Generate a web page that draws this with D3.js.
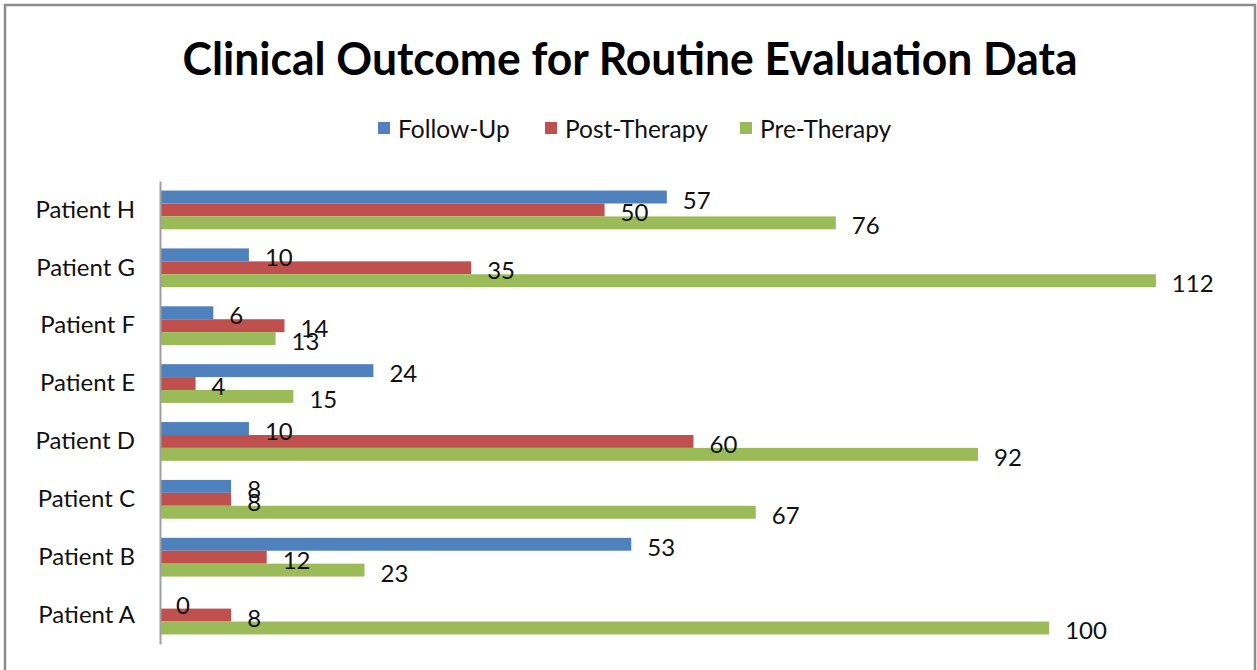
<!DOCTYPE html>
<html>
<head>
<meta charset="utf-8">
<script src="https://cdn.jsdelivr.net/npm/d3@7"></script>
<style>
  body { margin: 0; background: #fff; }
  svg text { font-family: Lato, "Open Sans", sans-serif; }
</style>
</head>
<body>
<svg id="drawing_region"></svg>
<script>
const patients = ["Patient A", "Patient B", "Patient C", "Patient D", "Patient E", "Patient F", "Patient G", "Patient H"];
const series_names = ["Follow-Up", "Post-Therapy", "Pre-Therapy"];
const follow_up = [0, 53, 8, 10, 24, 6, 10, 57];
const post_therapy = [8, 12, 8, 60, 4, 14, 35, 50];
const pre_therapy = [100, 23, 67, 92, 15, 13, 112, 76];
const colors = ["#4f81bd", "#c0504d", "#9bbb59"];

class HBarChart {
    constructor( config ) {
        this.config = config;
        this.init();
    }

    init() {
        let self = this;
        self.svg = d3.select( self.config.parent )
            .attr('width', self.config.width)
            .attr('height', self.config.height);

        // frame
        self.svg.append('rect')
            .attr('x', 5).attr('y', 5)
            .attr('width', 1250).attr('height', 700)
            .attr('fill', 'none')
            .attr('stroke', '#8c8c8c')
            .attr('stroke-width', 2.5);

        self.svg.append('text')
            .attr('x', 630).attr('y', 75)
            .attr('text-anchor', 'middle')
            .attr('font-size', 46)
            .attr('font-weight', 'bold')
            .attr('fill', '#000')
            .attr('textLength', 895)
            .attr('lengthAdjust', 'spacingAndGlyphs')
            .text('Clinical Outcome for Routine Evaluation Data');

        self.xscale = d3.scaleLinear().domain([0, 120]).range([160, 1227]);
        self.yscale = d3.scaleBand()
            .domain( patients.slice().reverse() )
            .range([181, 644])
            .paddingInner(0.33)
            .paddingOuter(0.165);
        self.sub = d3.scaleBand()
            .domain( series_names )
            .range([0, self.yscale.bandwidth()]);
    }

    render() {
        let self = this;
        const table = patients.map( (p, i) => ({
            name: p,
            values: [follow_up[i], post_therapy[i], pre_therapy[i]]
        }));

        const groups = self.svg.append('g').selectAll('g')
            .data(table)
            .join('g')
            .attr('transform', d => `translate(0,${self.yscale(d.name)})`);

        groups.selectAll('rect')
            .data(d => d.values.map( (v, k) => ({ v: v, k: k }) ))
            .join('rect')
            .attr('x', self.xscale(0))
            .attr('y', d => self.sub(series_names[d.k]))
            .attr('width', d => self.xscale(d.v) - self.xscale(0))
            .attr('height', self.sub.bandwidth())
            .attr('fill', d => colors[d.k]);

        groups.selectAll('text')
            .data(d => d.values.map( (v, k) => ({ v: v, k: k }) ))
            .join('text')
            .attr('x', d => self.xscale(d.v) + 16)
            .attr('y', d => self.sub(series_names[d.k]) + self.sub.bandwidth() / 2 + 2)
            .attr('dominant-baseline', 'central')
            .attr('font-size', 24)
            .attr('fill', '#111')
            .text(d => d.v);

        const yaxis = d3.axisLeft( self.yscale )
            .tickSizeInner(0)
            .tickSizeOuter(0)
            .tickPadding(25);
        const ag = self.svg.append('g')
            .attr('transform', `translate(160,0)`)
            .call( yaxis );
        ag.select('.domain').attr('stroke', '#a0a0a0').attr('stroke-width', 2);
        ag.selectAll('text')
            .attr('font-size', 24)
            .attr('fill', '#111')
            .style('font-family', 'Lato, sans-serif');

        // legend
        const legend_x = [378, 545, 740];
        const lg = self.svg.append('g').selectAll('g')
            .data(series_names)
            .join('g')
            .attr('transform', (d, i) => `translate(${legend_x[i]},122)`);
        lg.append('rect')
            .attr('width', 12).attr('height', 12)
            .attr('fill', (d, i) => colors[i]);
        lg.append('text')
            .attr('x', 20).attr('y', 6)
            .attr('dominant-baseline', 'central')
            .attr('font-size', 24.5)
            .attr('fill', '#111')
            .text(d => d);
    }
}

const chart = new HBarChart({ parent: '#drawing_region', width: 1257, height: 670 });
chart.render();
</script>
</body>
</html>
